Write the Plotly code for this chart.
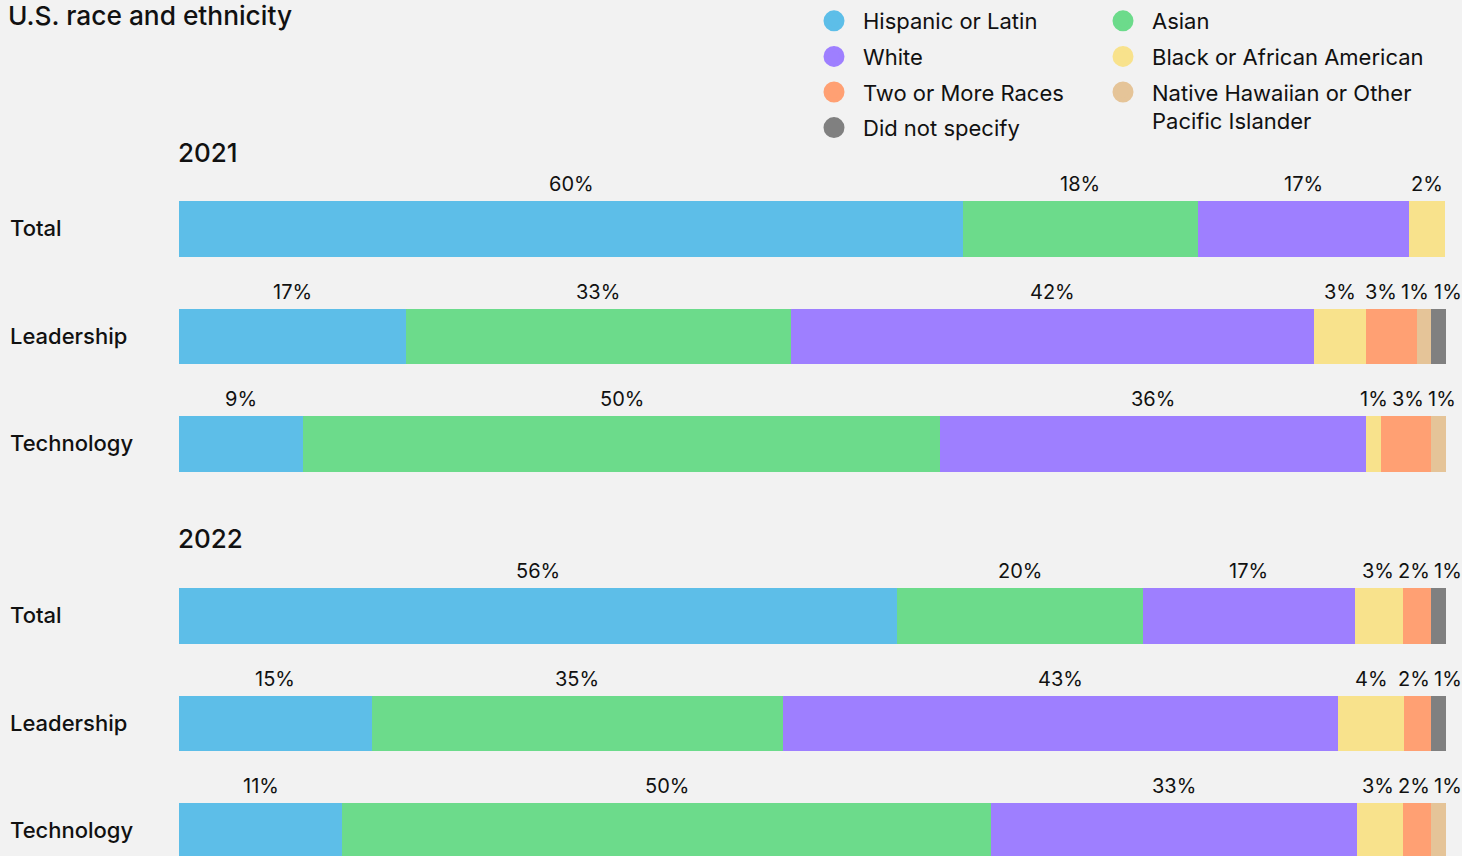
import plotly.graph_objects as go

W, H = 1462, 856
BG = "#F2F2F2"
INK = "#111111"
FONT = "Inter, 'Noto Sans', sans-serif"

categories = ["Total", "Leadership", "Technology"]
groups = ["Hispanic or Latin", "Asian", "White", "Black or African American",
          "Two or More Races", "Native Hawaiian or Other<br>Pacific Islander", "Did not specify"]
colors = ["#5DBEE8", "#6CDB8B", "#9E7FFF", "#F8E28C", "#FFA073", "#E5C498", "#808080"]

# segment lengths as drawn (share of each bar, %), order = groups
share_2021_total = [61.9, 18.5, 16.7, 2.8, 0, 0, 0]
share_2021_leadership = [17.9, 30.4, 41.3, 4.1, 4.0, 1.1, 1.2]
share_2021_technology = [9.8, 50.3, 33.6, 1.2, 3.9, 1.2, 0]
share_2022_total = [56.7, 19.4, 16.7, 3.8, 2.2, 0, 1.2]
share_2022_leadership = [15.2, 32.5, 43.8, 5.2, 2.1, 0, 1.2]
share_2022_technology = [12.9, 51.2, 28.9, 3.6, 2.2, 1.2, 0]

# percentages printed above the segments
label_2021_total = [60, 18, 17, 2, None, None, None]
label_2021_leadership = [17, 33, 42, 3, 3, 1, 1]
label_2021_technology = [9, 50, 36, 1, 3, 1, None]
label_2022_total = [56, 20, 17, 3, 2, None, 1]
label_2022_leadership = [15, 35, 43, 4, 2, None, 1]
label_2022_technology = [11, 50, 33, 3, 2, 1, None]

years = ["2021", "2022"]
shares = {"2021": [share_2021_total, share_2021_leadership, share_2021_technology],
          "2022": [share_2022_total, share_2022_leadership, share_2022_technology]}
labels = {"2021": [label_2021_total, label_2021_leadership, label_2021_technology],
          "2022": [label_2022_total, label_2022_leadership, label_2022_technology]}

# ---- layout geometry (pixels) ----
X0, X1 = 179, 1446
ROW = 107.5
BARW = 0.52
first_row_center = {"2021": 229, "2022": 616}
year_label_y = {"2021": 152, "2022": 538.5}
PPU = (X1 - X0) / 100.0
LABEL_FS = 20

fig = go.Figure()
annotations = []
axis_ids = {"2021": ("x", "y"), "2022": ("x2", "y2")}


def text_width(s):
    w = 0
    for ch in s:
        if ch == "%":
            w += 0.86 * LABEL_FS
        elif ch == "1":
            w += 0.46 * LABEL_FS
        else:
            w += 0.63 * LABEL_FS
    return w


for yr in years:
    xa, ya = axis_ids[yr]
    for gi, g in enumerate(groups):
        fig.add_trace(go.Bar(
            orientation="h",
            y=categories,
            x=[shares[yr][ci][gi] for ci in range(len(categories))],
            name=g,
            marker=dict(color=colors[gi], line=dict(width=0)),
            width=BARW,
            xaxis=xa, yaxis=ya,
            showlegend=False,
            hovertemplate="%{y}: %{x}%<extra>" + g + "</extra>",
        ))
    # labels above segments
    for ci, cat in enumerate(categories):
        vals = shares[yr][ci]
        labs = labels[yr][ci]
        items = []
        cum = 0
        for gi in range(len(groups)):
            v = vals[gi]
            if labs[gi] is not None and v > 0:
                items.append((cum + v / 2.0, f"{labs[gi]}%"))
            cum += v
        centers = [X0 + c * PPU for c, _ in items]
        widths = [text_width(t) for _, t in items]
        pos = list(centers)
        gap = 6
        for i in range(1, len(pos)):
            m = pos[i - 1] + widths[i - 1] / 2 + gap + widths[i] / 2
            if pos[i] < m:
                pos[i] = m
        right_limit = 1461
        for i in range(len(pos) - 1, -1, -1):
            if i == len(pos) - 1:
                m = right_limit - widths[i] / 2
            else:
                m = pos[i + 1] - widths[i + 1] / 2 - gap - widths[i] / 2
            if pos[i] > m:
                pos[i] = m
        for (c, t), p, cpx in zip(items, pos, centers):
            annotations.append(dict(
                x=c, y=cat, xref=xa, yref=ya, text=t, showarrow=False,
                xanchor="center", yanchor="middle", xshift=p - cpx, yshift=45,
                font=dict(size=LABEL_FS, color=INK, family=FONT),
            ))
        annotations.append(dict(
            x=10 / W, y=cat, xref="paper", yref=ya, text=cat, showarrow=False,
            xanchor="left", yanchor="middle", xshift=-2, yshift=1,
            font=dict(size=22, color=INK, family=FONT, weight=500),
        ))
    annotations.append(dict(
        x=(X0 - 3) / W, y=1 - year_label_y[yr] / H, xref="paper", yref="paper",
        text=yr, showarrow=False, xanchor="left", yanchor="middle",
        font=dict(size=26, color=INK, family=FONT, weight=500),
    ))

# legend entries (circle markers)
for gi, g in enumerate(groups):
    fig.add_trace(go.Scatter(
        x=[None], y=[None], mode="markers", name=g,
        marker=dict(symbol="circle", size=16, color=colors[gi],
                    line=dict(color=colors[gi], width=5)),
        legend="legend" if gi % 2 == 0 else "legend2",
        legendgroup=g, showlegend=True, xaxis="x", yaxis="y",
    ))

legend_common = dict(
    orientation="v", yanchor="top", y=1, xanchor="left",
    bgcolor="rgba(0,0,0,0)", borderwidth=0, itemwidth=48,
    tracegroupgap=4, valign="top",
    font=dict(size=22, color=INK, family=FONT),
    itemclick=False, itemdoubleclick=False,
)

layout_axes = {}
for yr in years:
    xa, ya = axis_ids[yr]
    top = first_row_center[yr] - ROW / 2
    bottom = min(top + 3 * ROW, H)
    span = (bottom - top) / ROW
    xname = "xaxis" if xa == "x" else "xaxis2"
    yname = "yaxis" if ya == "y" else "yaxis2"
    layout_axes[xname] = dict(domain=[X0 / W, X1 / W], range=[0, 100], anchor=ya,
                              visible=False, fixedrange=True)
    layout_axes[yname] = dict(domain=[1 - bottom / H, 1 - top / H],
                              range=[-0.5 + span, -0.5], anchor=xa,
                              type="category", categoryorder="array",
                              categoryarray=categories, visible=False, fixedrange=True)

fig.update_layout(
    width=W, height=H,
    margin=dict(l=0, r=0, t=0, b=0),
    paper_bgcolor=BG, plot_bgcolor=BG,
    barmode="stack",
    font=dict(family=FONT, color=INK),
    title=dict(text="U.S. race and ethnicity", x=8 / W, xanchor="left", xref="container",
               y=1 - 16 / H, yanchor="middle", yref="container",
               font=dict(size=26.3, color=INK, family=FONT, weight=500)),
    legend=dict(x=805 / W, **legend_common),
    legend2=dict(x=1094 / W, **legend_common),
    annotations=annotations,
    **layout_axes,
)

fig.write_html("out.html")
